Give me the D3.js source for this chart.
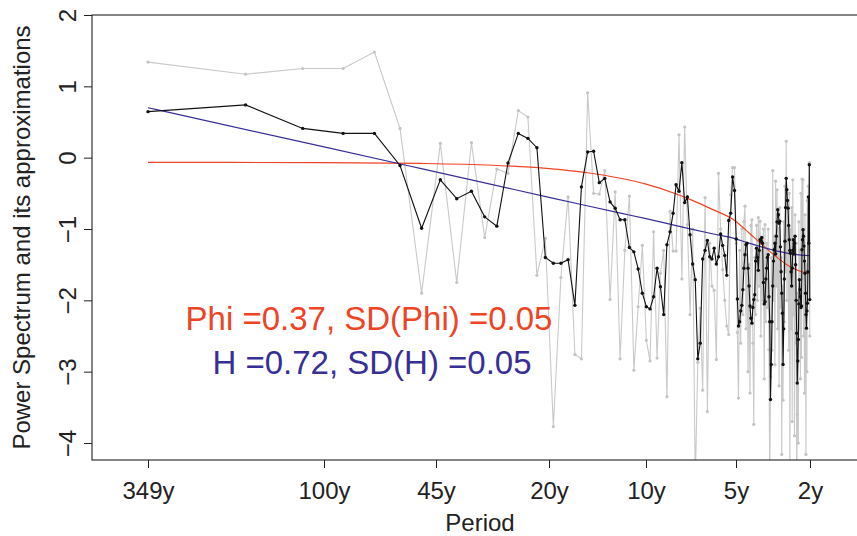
<!DOCTYPE html>
<html>
<head>
<meta charset="utf-8">
<script src="https://cdn.jsdelivr.net/npm/d3@7"></script>
<style>
  html, body { margin: 0; padding: 0; background: #fff; }
  svg { display: block; }
  text { font-family: "Liberation Sans", Arial, Helvetica, sans-serif; }
</style>
</head>
<body>
<svg id="chart" width="857" height="536"></svg>
<script>
// Fourier frequencies k = 1..174 of a 698-year record; period = 349 / k years
const freqIndex = d3.range(1, 175);
const periods = freqIndex.map(k => 349 / k);

// log periodogram (raw)
const rawSpectrum = [
  1.34, 1.17, 1.25, 1.25, 1.48, 0.41, -1.90, 0.20, -1.75, 0.21,
  -1.12, -0.16, -0.22, 0.66, 0.57, -1.65, -1.13, -3.77, -1.68, -0.55,
  -2.76, -2.82, 0.91, -0.50, -0.51, -0.18, -1.99, -0.48, -2.82, -1.30,
  -0.54, -2.98, -2.09, -1.23, -2.56, -2.85, -1.04, -2.81, -1.62, -1.30,
  -3.35, -0.75, -1.31, -1.31, 0.32, -1.70, 0.43, -0.94, -2.20, -1.00,
  -4.60, -2.87, -2.11, -3.26, -0.56, -3.56, -1.20, -1.80, -1.86, -2.83,
  -0.22, -1.00, -1.57, -2.00, -2.36, -2.48, -0.52, -0.14, -0.14, -1.20,
  -2.45, -3.37, -1.30, -2.60, -1.00, -2.20, -0.90, -0.68, -2.40, -1.20,
  -3.00, -1.50, -3.30, -0.95, -0.87, -2.60, -3.74, -1.40, -2.20, -0.95,
  -2.00, -0.84, -1.80, -0.89, -2.50, -1.30, -2.00, -1.00, -3.10, -0.94,
  -2.30, -1.20, -2.10, -1.00, -2.69, -4.60, -3.07, -1.40, -2.70, -0.18,
  -2.00, -1.10, -2.90, -0.33, -1.80, -0.45, -2.40, -1.00, -3.20, -0.70,
  -2.10, -1.40, -4.16, -1.80, -3.40, -0.90, -2.30, -0.40, -1.60, 0.23,
  -2.00, -0.60, -1.20, -2.70, -0.50, -4.60, -1.00, -2.40, -0.70, -3.70,
  -0.31, -2.20, -1.50, -3.90, -0.80, -2.60, -1.20, -4.60, -3.60, -1.90,
  -4.00, -0.90, -2.40, -1.30, -3.10, -0.50, -2.80, -0.30, -1.70, -0.31,
  -2.50, -1.00, -3.30, -0.80, -2.20, -4.16, -1.50, -3.00, -0.60, -2.00,
  -0.40, -1.30, -0.07, -2.50
];

// smoothed log spectrum
const smoothSpectrum = [
  0.645, 0.74, 0.41, 0.34, 0.34, -0.11, -0.99, -0.31, -0.575, -0.47,
  -0.83, -0.96, -0.075, 0.34, 0.27, 0.14, -1.40, -1.48, -1.48, -1.43,
  -2.07, -0.41, 0.08, 0.09, -0.35, -0.29, -0.62, -0.71, -0.87, -0.87,
  -1.26, -1.32, -1.56, -1.90, -2.09, -2.12, -1.95, -1.55, -1.81, -2.20,
  -1.22, -1.04, -0.78, -0.38, -0.47, -0.07, -0.63, -0.55, -1.08, -1.49,
  -1.71, -2.82, -2.60, -1.42, -1.30, -1.16, -1.39, -1.42, -1.27, -1.49,
  -1.39, -1.07, -1.23, -1.37, -1.65, -0.88, -0.78, -0.27, -0.46, -1.14,
  -1.98, -2.36, -2.30, -2.15, -2.07, -1.85, -1.55, -1.36, -1.22, -1.20,
  -1.55, -1.80, -2.08, -2.25, -2.32, -2.10, -1.99, -1.92, -1.45, -1.27,
  -1.40, -1.58, -1.30, -1.15, -1.17, -1.12, -1.20, -1.75, -2.05, -2.02,
  -1.70, -1.55, -1.40, -1.36, -1.95, -2.30, -3.39, -2.90, -2.30, -1.80,
  -1.45, -1.29, -1.20, -1.35, -1.10, -0.90, -0.73, -0.80, -0.92, -0.89,
  -1.25, -1.60, -1.90, -2.18, -2.90, -2.40, -1.70, -1.17, -0.70, -0.29,
  -0.45, -0.60, -0.71, -0.95, -1.15, -1.30, -1.34, -1.60, -1.80, -1.55,
  -1.30, -1.15, -1.35, -1.20, -1.10, -1.50, -2.00, -2.46, -3.16, -2.85,
  -2.55, -2.05, -1.71, -1.85, -1.95, -2.10, -2.08, -1.29, -1.15, -1.01,
  -1.10, -1.24, -1.45, -1.62, -1.90, -2.20, -2.39, -2.15, -2.04, -1.60,
  -0.55, -1.20, -0.10, -1.99
];

// fitted model spectra, sampled along the period axis
const modelPeriods = [349, 100, 50, 30, 20, 15, 12, 10, 8, 7, 6, 5, 4.5, 4, 3.5, 3, 2.7, 2.5, 2.3, 2.15, 2];
const ar1Fit  = [-0.066, -0.070, -0.081, -0.106, -0.153, -0.215, -0.289, -0.371, -0.502, -0.598, -0.725,
                 -0.894, -0.998, -1.118, -1.254, -1.400, -1.489, -1.541, -1.586, -1.610, -1.620];
const fracFit = [0.700, 0.151, -0.154, -0.378, -0.556, -0.681, -0.777, -0.855, -0.949, -1.005, -1.067,
                 -1.138, -1.178, -1.219, -1.264, -1.309, -1.334, -1.350, -1.363, -1.369, -1.372];

const periodTicks = [349, 100, 45, 20, 10, 5, 2];
const yTicks = [-4, -3, -2, -1, 0, 1, 2];
const fitLabels = ["Phi =0.37, SD(Phi) =0.05", "H =0.72, SD(H) =0.05"];

const RED = "#ee4325";
const BLUE = "#382f96";

const svg = d3.select("#chart");
const box = { left: 92, right: 868, top: 15, bottom: 460 };

// period axis: logarithmic, pinned at the labelled periods
const x = d3.scaleLog()
  .domain(periodTicks)
  .range([148, 324, 436, 549, 646, 736, 810]);

const y = d3.scaleLinear().domain([-4, 2]).range([443, 15]);

svg.append("rect").attr("width", 857).attr("height", 536).attr("fill", "#fff");

svg.append("defs").append("clipPath").attr("id", "plotClip")
  .append("rect")
  .attr("x", box.left).attr("y", box.top)
  .attr("width", box.right - box.left).attr("height", box.bottom - box.top);

const plot = svg.append("g").attr("clip-path", "url(#plotClip)");

const specLine = d3.line().x((d, i) => x(periods[i])).y(d => y(d));

// raw periodogram
plot.append("path").datum(rawSpectrum)
  .attr("d", specLine).attr("fill", "none")
  .attr("stroke", "#c9c9c9").attr("stroke-width", 1.1);
plot.append("g").selectAll("circle").data(rawSpectrum).join("circle")
  .attr("cx", (d, i) => x(periods[i])).attr("cy", d => y(d))
  .attr("r", 1.6).attr("fill", "#c4c4c4");

// fitted curves
const modelLine = d3.line().curve(d3.curveMonotoneX)
  .x((d, i) => x(modelPeriods[i])).y(d => y(d));
plot.append("path").datum(ar1Fit).attr("d", modelLine)
  .attr("fill", "none").attr("stroke", RED).attr("stroke-width", 1.2);
plot.append("path").datum(fracFit).attr("d", modelLine)
  .attr("fill", "none").attr("stroke", BLUE).attr("stroke-width", 1.2);

// smoothed spectrum
plot.append("path").datum(smoothSpectrum)
  .attr("d", specLine).attr("fill", "none")
  .attr("stroke", "#111").attr("stroke-width", 1.1);
plot.append("g").selectAll("circle").data(smoothSpectrum).join("circle")
  .attr("cx", (d, i) => x(periods[i])).attr("cy", d => y(d))
  .attr("r", 1.7).attr("fill", "#111");

// frame
svg.append("rect")
  .attr("x", box.left).attr("y", box.top)
  .attr("width", box.right - box.left).attr("height", box.bottom - box.top)
  .attr("fill", "none").attr("stroke", "#222").attr("stroke-width", 1.1);

// x axis
const xAxis = svg.append("g").attr("transform", `translate(0,${box.bottom})`)
  .call(d3.axisBottom(x).tickValues(periodTicks).tickFormat(d => d + "y").tickSize(8));
xAxis.select(".domain").remove();
xAxis.selectAll("line").attr("stroke", "#222");
xAxis.selectAll("text")
  .attr("y", 39).attr("dy", 0)
  .attr("font-size", 24).attr("fill", "#222")
  .style("font-family", "'Liberation Sans', Arial, sans-serif");

// y axis
const yAxis = svg.append("g").attr("transform", `translate(${box.left},0)`)
  .call(d3.axisLeft(y).tickValues(yTicks).tickFormat(d3.format("d")).tickSize(8));
yAxis.select(".domain").remove();
yAxis.selectAll("line").attr("stroke", "#222");
yAxis.selectAll("text")
  .attr("transform", "rotate(-90)")
  .attr("x", 0).attr("y", -16).attr("dy", 0)
  .attr("text-anchor", "middle")
  .attr("font-size", 24).attr("fill", "#222")
  .style("font-family", "'Liberation Sans', Arial, sans-serif");

// axis titles
svg.append("text")
  .attr("x", (box.left + box.right) / 2).attr("y", 531)
  .attr("text-anchor", "middle").attr("font-size", 24).attr("fill", "#222")
  .text("Period");
svg.append("text")
  .attr("transform", `translate(30,${(box.top + box.bottom) / 2}) rotate(-90)`)
  .attr("text-anchor", "middle").attr("font-size", 24).attr("fill", "#222")
  .text("Power Spectrum and its approximations");

// fit annotations
svg.append("text")
  .attr("x", 369).attr("y", 330).attr("text-anchor", "middle")
  .attr("font-size", 33).attr("fill", RED)
  .text(fitLabels[0]);
svg.append("text")
  .attr("x", 372).attr("y", 374).attr("text-anchor", "middle")
  .attr("font-size", 33).attr("fill", BLUE)
  .text(fitLabels[1]);
</script>
</body>
</html>
